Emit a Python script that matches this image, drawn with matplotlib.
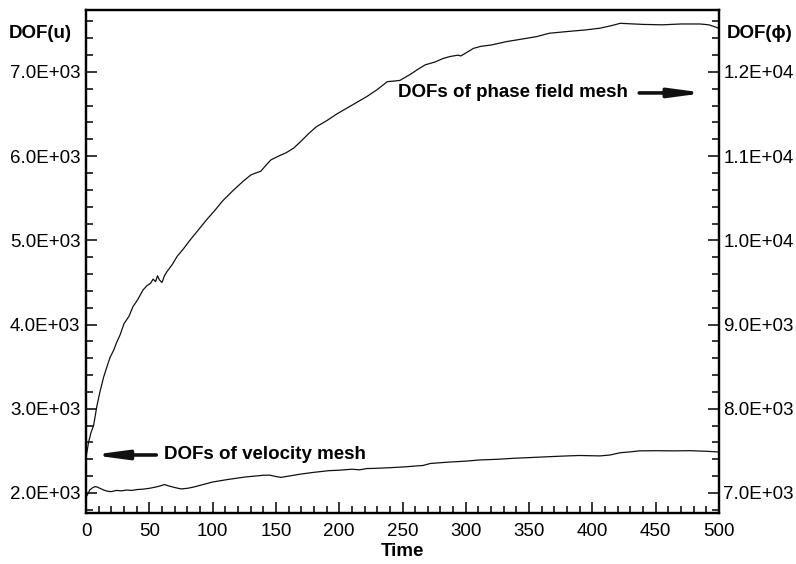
import matplotlib
matplotlib.use('Agg')
import matplotlib.pyplot as plt
from matplotlib.ticker import MultipleLocator, FuncFormatter

plt.rcParams['font.family'] = ['Liberation Sans', 'DejaVu Sans']
plt.rcParams['xtick.direction'] = 'in'
plt.rcParams['ytick.direction'] = 'in'

# phase field mesh DOFs (right axis)
t_phi = [0, 2, 4, 6, 8.5, 11, 14, 17, 19, 22, 24, 27, 30, 34, 37, 41, 45, 48, 51, 53,
         55, 56.5, 58, 60, 62, 64, 68, 72, 77, 82, 88, 95, 102, 108, 116, 124, 130, 134,
         138, 142, 146, 152, 158, 164, 170, 176, 182, 190, 198, 206, 214, 222, 230, 238,
         244, 248, 256, 262, 268, 276, 282, 288, 294, 296, 300, 306, 312, 320, 332, 344,
         356, 366, 380, 395, 406, 415, 422, 430, 440, 455, 470, 485, 492, 498, 500]
dof_phi = [7420, 7600, 7720, 7800, 8025, 8200, 8380, 8520, 8610, 8700, 8780, 8880, 9010,
           9100, 9210, 9300, 9410, 9460, 9490, 9540, 9510, 9580, 9530, 9500, 9580, 9630,
           9710, 9810, 9900, 10000, 10110, 10240, 10360, 10470, 10590, 10700, 10775,
           10800, 10820, 10890, 10955, 11000, 11040, 11095, 11180, 11270, 11350, 11420,
           11500, 11570, 11640, 11710, 11790, 11885, 11893, 11900, 11970, 12030, 12085,
           12120, 12160, 12185, 12200, 12190, 12225, 12280, 12305, 12320, 12360, 12390,
           12420, 12460, 12480, 12500, 12520, 12550, 12578, 12572, 12565, 12560, 12570,
           12570, 12560, 12530, 12515]

# velocity mesh DOFs (left axis)
t_u = [0, 1.5, 3, 5, 7, 9, 11, 14, 17, 20, 24, 28, 32, 36, 40, 45, 50, 55, 59, 62, 65,
       70, 75, 80, 85, 90, 95, 100, 106, 112, 119, 126, 133, 140, 145, 150, 154, 160,
       170, 180, 192, 200, 210, 216, 222, 228, 240, 252, 262, 266, 272, 285, 300, 311,
       325, 338, 350, 366, 380, 390, 406, 414, 422, 430, 437, 450, 465, 477, 490, 500]
dof_u = [1950, 1990, 2036, 2060, 2075, 2070, 2055, 2035, 2020, 2016, 2030, 2025, 2035,
         2030, 2040, 2045, 2055, 2070, 2085, 2100, 2085, 2065, 2048, 2055, 2070, 2090,
         2110, 2130, 2145, 2160, 2175, 2190, 2200, 2210, 2212, 2195, 2185, 2200, 2225,
         2245, 2265, 2270, 2282, 2275, 2290, 2292, 2300, 2310, 2322, 2326, 2350, 2365,
         2378, 2392, 2400, 2412, 2420, 2431, 2440, 2445, 2440, 2451, 2478, 2488, 2500,
         2502, 2500, 2502, 2495, 2487]


def sci_fmt(v, pos):
    s = '%.1E' % v
    mant, exp = s.split('E')
    return '%sE+%02d' % (mant, int(exp))


fig = plt.figure(figsize=(7.96, 5.64), dpi=100)
ax = fig.add_axes([86 / 796, 51 / 564, 633 / 796, 503 / 564])
ax2 = ax.twinx()

ax.plot(t_u, dof_u, color='#111111', lw=0.9)
ax2.plot(t_phi, dof_phi, color='#111111', lw=0.9)

ax.set_xlim(0, 500)
ax.set_ylim(1762, 7736)
ax2.set_ylim(6762, 12736)

ax.xaxis.set_major_locator(MultipleLocator(50))
ax.xaxis.set_minor_locator(MultipleLocator(10))
for a in (ax, ax2):
    a.yaxis.set_major_locator(MultipleLocator(1000))
    a.yaxis.set_minor_locator(MultipleLocator(200))
    a.yaxis.set_major_formatter(FuncFormatter(sci_fmt))
    for s in a.spines.values():
        s.set_linewidth(1.6)

ax.tick_params(which='both', labelsize=13.5, width=1.1, top=False, right=False, left=True)
ax.tick_params(which='major', length=8)
ax.tick_params(which='minor', length=5)
ax.tick_params(axis='x', pad=7)
ax.tick_params(axis='y', pad=4)
ax2.tick_params(which='both', labelsize=13.5, width=1.1, pad=3, left=False, right=True)
ax2.tick_params(which='major', length=8)
ax2.tick_params(which='minor', length=5)

fig.text(9 / 796, 1 - 34 / 564, 'DOF(u)', fontsize=13.5, fontweight='bold', va='center')
fig.text(727 / 796, 1 - 33 / 564, 'DOF(\u03d5)', fontsize=13.5, fontweight='bold', va='center')
fig.text(402 / 796, 1 - 552 / 564, 'Time', fontsize=13.5, fontweight='bold', ha='center', va='center')

arrow = dict(arrowstyle='-|>,head_length=1.5,head_width=0.2', lw=2.6, color='#111111',
             shrinkA=0, shrinkB=0, mutation_scale=13)
ax.annotate('', xy=(489, 6751), xytext=(437, 6751), arrowprops=arrow)
ax.text(428, 6751, 'DOFs of phase field mesh', fontsize=13.5, fontweight='bold',
        ha='right', va='center')
ax.annotate('', xy=(4.5, 2451), xytext=(55.5, 2451), arrowprops=arrow)
ax.text(61.5, 2451, 'DOFs of velocity mesh', fontsize=13.5, fontweight='bold',
        ha='left', va='center')

fig.savefig('out.png', dpi=100)
